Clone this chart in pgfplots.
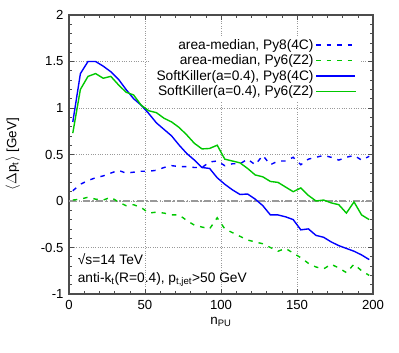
\documentclass[border=0pt]{standalone}
\usepackage{pgfplots}
\usepackage{pgfplotstable}
\pgfplotsset{compat=1.18}
\usepackage{fontspec}
\setmainfont{Liberation Sans}
\definecolor{gpblue}{RGB}{0,0,255}
\definecolor{gpgreen}{RGB}{0,200,0}
\pgfplotstableread{
n     bd    gd     bs     gs
2.5   0.11  0.01   0.85   0.73
7.5   0.18  0.02   1.37   1.20
12.5  0.22  0.04   1.50   1.34
17.5  0.25  0.02   1.50   1.37
22.5  0.27  0.01   1.45   1.32
27.5  0.30  0.04   1.39   1.34
32.5  0.33  -0.01  1.31   1.25
37.5  0.30  -0.05  1.20   1.17
42.5  0.31  -0.04  1.10   1.14
47.5  0.32  -0.07  1.03   1.03
52.5  0.32  -0.13  0.94   0.97
57.5  0.33  -0.12  0.84   0.95
62.5  0.36  -0.13  0.77   0.89
67.5  0.38  -0.15  0.70   0.85
72.5  0.37  -0.15  0.60   0.79
77.5  0.37  -0.21  0.51   0.71
82.5  0.36  -0.26  0.44   0.62
87.5  0.36  -0.28  0.36   0.56
92.5  0.42  -0.30  0.35   0.565
97.5  0.43  -0.18  0.25   0.60
102.5 0.38  -0.30  0.18   0.45
107.5 0.40  -0.34  0.12   0.43
112.5 0.40  -0.38  0.07   0.41
117.5 0.45  -0.42  0.075  0.35
122.5 0.39  -0.44  0.02   0.28
127.5 0.49  -0.46  -0.05  0.26
132.5 0.39  -0.50  -0.15  0.21
137.5 0.43  -0.54  -0.15  0.20
142.5 0.43  -0.51  -0.17  0.15
147.5 0.47  -0.56  -0.20  0.10
152.5 0.39  -0.61  -0.31  0.14
157.5 0.45  -0.67  -0.30  0.06
162.5 0.47  -0.71  -0.37  0.00
167.5 0.49  -0.73  -0.39  0.01
172.5 0.47  -0.68  -0.44  -0.02
177.5 0.44  -0.72  -0.48  -0.04
182.5 0.47  -0.77  -0.51  -0.13
187.5 0.49  -0.68  -0.54  -0.01
192.5 0.44  -0.75  -0.58  -0.15
197.5 0.48  -0.80  -0.63  -0.20
}\datatable
\begin{document}
\begin{tikzpicture}
\path[use as bounding box] (0bp,0bp) rectangle (399bp,353bp);
\begin{axis}[
  at={(69bp,59bp)}, anchor=south west,
  scale only axis, width=304bp, height=279bp,
  xmin=0, xmax=200, ymin=-1, ymax=2,
  xtick={0,50,...,200}, ytick={-1,-0.5,...,2},
  minor x tick num=4, minor y tick num=4,
  tick align=inside,
  major tick length=5bp, minor tick length=3bp,
  tick style={black!70, line width=0.6bp},
  grid=major, major grid style={black!40, dotted, line width=0.6bp},
  axis line style={black!70, line width=1.2bp},
  /pgf/number format/assume math mode=true,
  tick label style={font=\fontsize{13.2}{15}\selectfont},
  xticklabel style={yshift=-3bp},
  yticklabel style={xshift=-2bp},
  label style={font=\fontsize{13.5}{15}\selectfont},
  xlabel={n\textsubscript{PU}},
  ylabel={$\langle$\kern1pt$\Delta$p\textsubscript{t}$\rangle$ [GeV]},
  xlabel style={at={(axis description cs:0.5,0)}, yshift=-20bp},
  ylabel style={at={(axis description cs:-0.185,0.5)}, anchor=center},
  legend style={at={(0.962,0.924)}, anchor=north east, draw=none, fill=white,
    inner xsep=5bp, inner ysep=1bp,
    font=\fontsize{13.8}{16}\selectfont, row sep=0bp},
  legend cell align=right,
  legend plot pos=right,
  legend image post style={xscale=2.3},
]
\addplot[black!40, line width=1.3bp, dash pattern=on 7bp off 2.5bp on 1.5bp off 2.5bp, forget plot] coordinates {(0,0) (200,0)};
\addplot[gpblue, line width=1.4bp, dash pattern=on 4.5bp off 6bp, forget plot] table[x=n,y=bd] {\datatable};
\addplot[gpgreen, line width=1.4bp, dash pattern=on 4.5bp off 6bp, forget plot] table[x=n,y=gd] {\datatable};
\addplot[gpblue, line width=1.4bp, solid, forget plot] table[x=n,y=bs] {\datatable};
\addplot[gpgreen, line width=1.4bp, solid, forget plot] table[x=n,y=gs] {\datatable};
\addlegendimage{gpblue, line width=1.4bp, dash pattern=on 4.5bp off 6bp}
\addlegendentry{area-median, Py8(4C)}
\addlegendimage{gpgreen, line width=1.4bp, dash pattern=on 4.5bp off 6bp}
\addlegendentry{area-median, Py6(Z2)}
\addlegendimage{gpblue, line width=1.4bp, solid}
\addlegendentry{SoftKiller(a=0.4), Py8(4C)}
\addlegendimage{legend image code/.code={\fill[fill={rgb,255:red,0;green,200;blue,0}, draw=none] (0bp,-0.7bp) rectangle (17.4bp,0.7bp);}}
\addlegendentry{SoftKiller(a=0.4), Py6(Z2)}
\addlegendimage{empty legend}
\addlegendentry[font=\fontsize{1}{1}\selectfont, inner sep=0pt]{}
\node[anchor=west, font=\fontsize{13.8}{16}\selectfont] at (axis cs:3.5,-0.63) {√s=14 TeV};
\node[anchor=west, font=\fontsize{13.8}{16}\selectfont] at (axis cs:3.5,-0.84) {anti-k\textsubscript{t}(R=0.4), p\textsubscript{t,jet}>50 GeV};
\end{axis}
\end{tikzpicture}
\end{document}
